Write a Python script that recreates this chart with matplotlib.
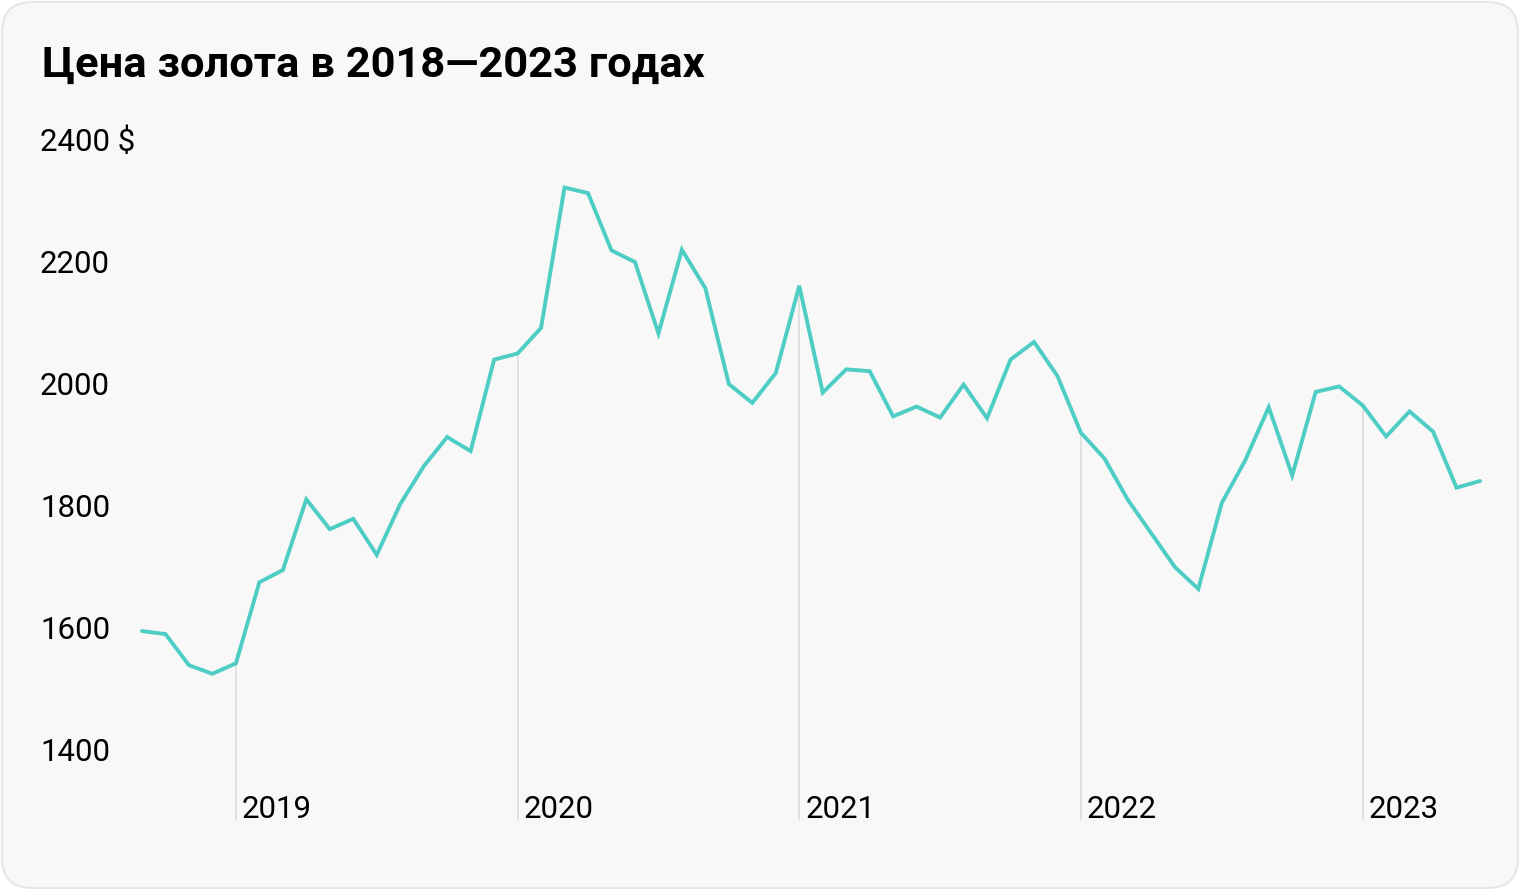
import numpy as np
import matplotlib.pyplot as plt
from matplotlib.patches import FancyBboxPatch
import matplotlib.transforms as mtransforms

# monthly gold price, Sep 2018 - Jun 2023
prices = [1595, 1590, 1539, 1525,
          1542, 1675, 1695, 1811, 1762, 1779, 1720, 1803, 1865, 1913, 1890, 2040,
          2050, 2092, 2322, 2313, 2219, 2200, 2083, 2220, 2157, 2000, 1969, 2018,
          2161, 1986, 2024, 2021, 1947, 1963, 1945, 1999, 1944, 2040, 2069, 2013,
          1920, 1878, 1810, 1755, 1700, 1664, 1805, 1875, 1962, 1850, 1987, 1996,
          1965, 1914, 1955, 1922, 1830, 1841]
years = ["2019", "2020", "2021", "2022", "2023"]
year_start_idx = [4, 16, 28, 40, 52]
y_ticks = [2400, 2200, 2000, 1800, 1600, 1400]
y_labels = ["2400 $", "2200", "2000", "1800", "1600", "1400"]
title = "Цена золота в 2018—2023 годах"

W, H = 1520, 890
fig = plt.figure(figsize=(W / 100, H / 100), dpi=100)
fig.patch.set_facecolor("white")

# rounded card behind everything
card = FancyBboxPatch((2 / W, 2 / H), (W - 4) / W, (H - 4) / H,
                      boxstyle="round,pad=0,rounding_size=0.02",
                      transform=fig.transFigure, facecolor="#f8f8f8",
                      edgecolor="#e6e6e6", linewidth=1.5, mutation_aspect=W / H,
                      zorder=-10)
fig.patches.append(card)

fig.text(42 / W, 1 - 65 / H, title, fontsize=31.3, fontweight="bold",
         family="Roboto", color="black", va="center", ha="left")

# axes in pixel coords: x from 142 to 1480, y from 140 (top) to 820 (bottom)
x0, x1, ytop, ybot = 142, 1480, 140, 820
ax = fig.add_axes([x0 / W, 1 - ybot / H, (x1 - x0) / W, (ybot - ytop) / H])
ax.set_facecolor("none")
ppd = (750 - 140) / 1000.0  # pixels per dollar
ymin = 1400 - (ybot - 750) / ppd
ax.set_xlim(0, len(prices) - 1)
ax.set_ylim(ymin, 2400)
ax.axis("off")

x = np.arange(len(prices))
for i in year_start_idx:
    ax.vlines(i, ymin, prices[i], color="#dddddd", lw=1.2, zorder=1)
ax.plot(x, prices, color="#4ecdc4", lw=2.8, zorder=3, solid_joinstyle="miter",
        solid_capstyle="round", clip_on=False)

# y labels at left margin
tr = mtransforms.blended_transform_factory(fig.transFigure, ax.transData)
for v, lab in zip(y_ticks, y_labels):
    fig.text(40 / W, v - 2 / ppd, lab, transform=tr, fontsize=22.5, family="Roboto",
             va="center", ha="left", color="black")

# year labels
trx = mtransforms.blended_transform_factory(ax.transData, fig.transFigure)
for i, lab in zip(year_start_idx, years):
    ax.text(i + 6 / 23.47, 1 - 810 / H, lab, transform=trx, fontsize=22.5,
            family="Roboto", va="center", ha="left", color="black")

fig.savefig("out.png", dpi=100, facecolor="white")
